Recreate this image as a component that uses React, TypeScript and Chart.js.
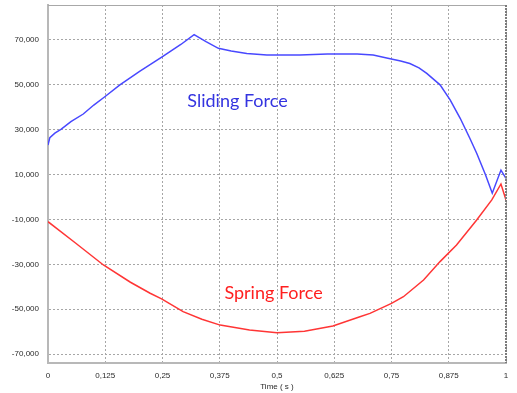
import React, { useEffect, useRef } from 'react';
import { Chart, registerables } from 'chart.js';

Chart.register(...registerables);

const slidingTime = [0, 0.004, 0.015, 0.029, 0.05, 0.077, 0.1, 0.124, 0.157, 0.2, 0.25, 0.29, 0.319, 0.345, 0.372, 0.4, 0.434, 0.478, 0.55, 0.61, 0.675, 0.71, 0.742, 0.77, 0.79, 0.81, 0.827, 0.856, 0.878, 0.9, 0.921, 0.936, 0.955, 0.97, 0.989, 1];
const slidingForce = [23200, 26500, 28500, 30300, 33600, 37000, 41000, 44700, 50000, 56000, 62600, 68000, 72400, 69300, 66300, 65100, 64000, 63300, 63300, 63700, 63700, 63300, 61900, 60600, 59500, 57600, 55100, 50000, 43300, 35100, 26200, 19500, 10000, 1700, 12000, 8300];

const springTime = [0, 0.06, 0.121, 0.18, 0.223, 0.248, 0.295, 0.336, 0.376, 0.44, 0.5, 0.56, 0.622, 0.681, 0.703, 0.75, 0.776, 0.82, 0.856, 0.892, 0.936, 0.969, 0.989, 1];
const springForce = [-11000, -20500, -30300, -38000, -42900, -45400, -51100, -54500, -57100, -59300, -60500, -59800, -57500, -53400, -51900, -47400, -44450, -37000, -28800, -21400, -10250, -1300, 5800, -1300];

const xTickValues = [0, 0.125, 0.25, 0.375, 0.5, 0.625, 0.75, 0.875, 1];
const yTickValues = [-70000, -50000, -30000, -10000, 10000, 30000, 50000, 70000];
const seriesNames = ['Sliding Force', 'Spring Force'];
const xTitle = 'Time ( s )';

const Y_MIN = -74000;
const Y_MAX = 85600;

const BLUE_LINE = '#4848ff';
const BLUE_TEXT = '#3434e0';
const RED_LINE = '#ff3535';
const RED_TEXT = '#ff1f1f';

const toPoints = (xs: number[], ys: number[]) => xs.map((x, i) => ({ x, y: ys[i] }));

const framePlugin = {
  id: 'frame',
  afterDraw(chart: any) {
    const { ctx, chartArea } = chart;
    const { left, right, top } = chartArea;
    ctx.save();
    ctx.strokeStyle = '#a8a8a8';
    ctx.lineWidth = 1;
    ctx.beginPath();
    ctx.moveTo(left, top + 0.5);
    ctx.lineTo(right, top + 0.5);
    ctx.stroke();
    ctx.strokeStyle = '#7a7a7a';
    ctx.lineWidth = 2;
    ctx.setLineDash([2, 1]);
    ctx.beginPath();
    ctx.moveTo(right, top);
    ctx.lineTo(right, chartArea.bottom);
    ctx.stroke();
    ctx.restore();
  },
};

const labelPlugin = {
  id: 'seriesLabels',
  afterDatasetsDraw(chart: any) {
    const { ctx, scales } = chart;
    const xs = scales.x;
    const ys = scales.y;
    ctx.save();
    ctx.font = '18px Lato, "Open Sans", sans-serif';
    ctx.textAlign = 'center';
    ctx.textBaseline = 'alphabetic';
    ctx.fillStyle = BLUE_TEXT;
    ctx.fillText(seriesNames[0], xs.getPixelForValue(0.4138), ys.getPixelForValue(40000));
    ctx.fillStyle = RED_TEXT;
    ctx.fillText(seriesNames[1], xs.getPixelForValue(0.4924), ys.getPixelForValue(-45600));
    ctx.restore();
  },
};

export default function App() {
  const canvasRef = useRef<HTMLCanvasElement | null>(null);

  useEffect(() => {
    const canvas = canvasRef.current;
    if (!canvas) return;
    const tickFont = { family: '"Liberation Sans", Arial, sans-serif', size: 8 };
    const chart = new Chart(canvas, {
      type: 'line',
      data: {
        datasets: [
          {
            label: seriesNames[0],
            data: toPoints(slidingTime, slidingForce),
            borderColor: BLUE_LINE,
            borderWidth: 1.5,
            pointRadius: 0,
            tension: 0,
            fill: false,
          },
          {
            label: seriesNames[1],
            data: toPoints(springTime, springForce),
            borderColor: RED_LINE,
            borderWidth: 1.5,
            pointRadius: 0,
            tension: 0,
            fill: false,
          },
        ],
      },
      options: {
        responsive: false,
        animation: false,
        devicePixelRatio: 1,
        layout: { padding: { left: 0, right: 11, top: 5, bottom: 0 } },
        plugins: {
          legend: { display: false },
          tooltip: { enabled: false },
        },
        scales: {
          x: {
            type: 'linear',
            min: 0,
            max: 1,
            afterBuildTicks: (scale: any) => {
              scale.ticks = xTickValues.map((v) => ({ value: v }));
            },
            afterFit: (scale: any) => {
              scale.height = 30;
              scale.paddingLeft = 0;
              scale.paddingRight = 0;
            },
            ticks: {
              font: tickFont,
              color: '#2a2a2a',
              padding: 8,
              maxRotation: 0,
              autoSkip: false,
              callback: (v: any) => String(v).replace('.', ','),
            },
            grid: { color: '#a6a6a6', lineWidth: 1, drawTicks: false },
            border: { display: true, color: '#b8b8b8', width: 2, dash: [2, 2] },
            title: {
              display: true,
              text: xTitle,
              font: tickFont,
              color: '#2a2a2a',
              padding: { top: 0, bottom: 1 },
            },
          },
          y: {
            type: 'linear',
            min: Y_MIN,
            max: Y_MAX,
            afterBuildTicks: (scale: any) => {
              scale.ticks = yTickValues.map((v) => ({ value: v }));
            },
            afterFit: (scale: any) => {
              scale.width = 48;
              scale.paddingTop = 0;
              scale.paddingBottom = 0;
            },
            ticks: {
              font: tickFont,
              color: '#2a2a2a',
              padding: 9,
              autoSkip: false,
              callback: (v: any) => Number(v).toLocaleString('en-US'),
            },
            grid: { color: '#a6a6a6', lineWidth: 1, drawTicks: false },
            border: { display: true, color: '#b8b8b8', width: 2, dash: [2, 2] },
          },
        },
      },
      plugins: [framePlugin, labelPlugin],
    } as any);
    return () => chart.destroy();
  }, []);

  return (
    <div style={{ position: 'absolute', left: 0, top: 0, width: 517, height: 393, background: '#fff' }}>
      <canvas ref={canvasRef} width={517} height={393} style={{ display: 'block' }} />
    </div>
  );
}
